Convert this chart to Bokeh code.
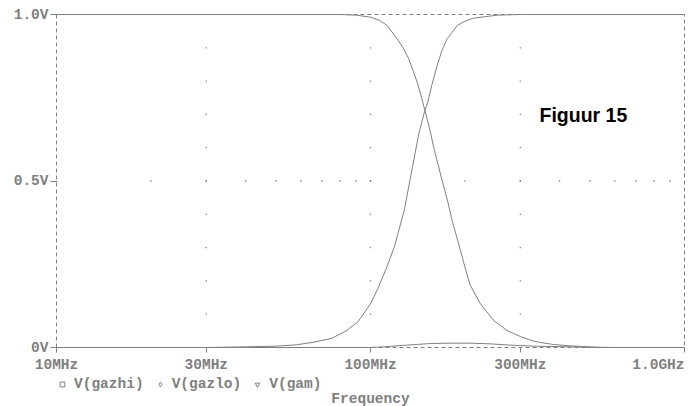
import numpy as np
from bokeh.plotting import figure
from bokeh.models import (Range1d, FixedTicker, Label, Legend, LegendItem,
                          ColumnDataSource)
from bokeh.embed import file_html
from bokeh.resources import INLINE

# ---------------- data (frequency in MHz, voltage in V) ----------------
gazhi_f = [10, 30, 40, 50, 58, 66, 75, 83, 91, 100, 106, 112, 119, 128, 136,
           142.5, 149, 152, 157, 163, 169, 175.5, 189, 200, 213, 253, 300, 1000]
gazhi_v = [0.000, 0.000, 0.002, 0.004, 0.008, 0.016, 0.027, 0.048, 0.076,
           0.131, 0.181, 0.235, 0.301, 0.411, 0.541, 0.642, 0.712, 0.735,
           0.790, 0.847, 0.893, 0.927, 0.967, 0.980, 0.989, 0.998, 1.000, 1.000]

gazlo_f = [10, 80, 90, 100, 107, 113, 121.6, 127, 132.4, 140.8, 145, 149, 154,
           159, 169, 176, 182, 193.5, 200.7, 208, 224, 247, 272, 300, 331, 348,
           383, 433, 527, 600, 1000]
gazlo_v = [1.000, 1.000, 0.998, 0.992, 0.982, 0.967, 0.927, 0.900, 0.867,
           0.797, 0.755, 0.712, 0.660, 0.601, 0.502, 0.440, 0.381, 0.291,
           0.235, 0.186, 0.131, 0.081, 0.051, 0.033, 0.019, 0.015, 0.009,
           0.005, 0.001, 0.000, 0.000]

gam_f = [10, 100, 110, 125, 140, 155, 180, 208, 240, 279, 330, 433, 520, 1000]
gam_v = [0.0, 0.0, 0.002, 0.006, 0.009, 0.012, 0.013, 0.013, 0.011, 0.007,
         0.004, 0.002, 0.000, 0.0]

x_ticks_mhz = [10, 30, 100, 300, 1000]
x_tick_labels = ["10MHz", "30MHz", "100MHz", "300MHz", "1.0GHz"]
y_ticks = [0, 0.5, 1.0]
y_tick_labels = ["0V", "0.5V", "1.0V"]
series_names = ["V(gazhi)", "V(gazlo)", "V(gam)"]

# ---------------- styling ----------------
GRAY = "#808080"
MONO = "Liberation Mono"
FS = "14.5px"

PX_DEC = 314.0   # pixels per decade
PX_V = 333.0     # pixels per volt

p = figure(width=695, height=406, x_axis_type="log",
           x_range=Range1d(1e7 * 10 ** (-56 / PX_DEC), 1e7 * 10 ** (639 / PX_DEC)),
           y_range=Range1d(-59 / PX_V, 1 + 14 / PX_V),
           output_backend="svg", toolbar_location=None,
           min_border_left=0, min_border_right=0, min_border_top=0,
           min_border_bottom=0)
p.outline_line_color = None
p.xgrid.visible = False
p.ygrid.visible = False
p.background_fill_color = "white"
p.border_fill_color = "white"

# dashed frame
p.line([1e7, 1e9, 1e9, 1e7, 1e7], [0, 0, 1, 1, 0], line_color=GRAY,
       line_width=1, line_dash="4 3")

# dotted grid (vertical at interior major ticks, horizontal at 0.5 V)
vx, vy = [], []
for t in x_ticks_mhz[1:-1]:
    for lvl in np.arange(1, 10) / 10:
        vx.append(t * 1e6)
        vy.append(lvl)
hx = [k * 10 ** d for d in (7, 8) for k in range(2, 10)] + [1e8]
hy = [0.5] * len(hx)
p.scatter(vx + hx, vy + hy, marker="square", size=1.3, fill_color=GRAY,
          line_color=None)

# curves
markers = ["square", "diamond", "inverted_triangle"]
legend_items = []
for name, mk, f, v in zip(series_names, markers,
                          (gazhi_f, gazlo_f, gam_f), (gazhi_v, gazlo_v, gam_v)):
    src = ColumnDataSource(dict(x=[a * 1e6 for a in f], y=v))
    ln = p.line("x", "y", source=src, line_color=GRAY, line_width=1)
    # marker renderer used only for the legend symbol (zero size on the plot)
    mr = p.scatter("x", "y", source=src, marker=mk, size=0, line_color=GRAY,
                   fill_color=None, line_width=1)
    legend_items.append(LegendItem(label=name, renderers=[mr]))

# x axis sits on the 0 V line, y axis on the 10 MHz line
xa = p.xaxis[0]
xa.fixed_location = 1e7 * 0 + 0
xa.ticker = FixedTicker(ticks=[t * 1e6 for t in x_ticks_mhz], minor_ticks=[])
overrides = {t * 1e6: lab for t, lab in zip(x_ticks_mhz, x_tick_labels)}
overrides[x_ticks_mhz[-1] * 1e6] = ""
xa.major_label_overrides = overrides
xa.axis_line_color = None
xa.major_tick_line_color = GRAY
xa.major_tick_out = 5
xa.major_tick_in = 0
xa.major_label_standoff = 4
xa.major_label_text_font = MONO
xa.major_label_text_font_style = "bold"
xa.major_label_text_font_size = FS
xa.major_label_text_color = GRAY

ya = p.yaxis[0]
ya.fixed_location = x_ticks_mhz[0] * 1e6
ya.ticker = FixedTicker(ticks=y_ticks, minor_ticks=[])
ya.major_label_overrides = {t: lab for t, lab in zip(y_ticks, y_tick_labels)}
ya.axis_line_color = None
ya.major_tick_line_color = GRAY
ya.major_tick_out = 6
ya.major_tick_in = 1
ya.major_label_standoff = 2
ya.major_label_text_font = MONO
ya.major_label_text_font_style = "bold"
ya.major_label_text_font_size = FS
ya.major_label_text_color = GRAY

# last x tick label, right-aligned at the frame edge
p.add_layout(Label(x=x_ticks_mhz[-1] * 1e6, y=-0.054, text=x_tick_labels[-1],
                   text_align="right", text_baseline="alphabetic",
                   text_font=MONO, text_font_style="bold", text_font_size=FS,
                   text_color=GRAY))

# axis title
p.add_layout(Label(x=1e8, y=-0.156, text="Frequency", text_align="center",
                   text_baseline="alphabetic", text_font=MONO,
                   text_font_style="bold", text_font_size=FS, text_color=GRAY))

# figure caption
p.add_layout(Label(x=3.453e8, y=0.699, text="Figuur 15", text_align="left",
                   text_baseline="alphabetic", text_font="Liberation Sans",
                   text_font_style="bold", text_font_size="19.5px",
                   text_color="black"))

legend = Legend(items=legend_items, location=(56, 14), orientation="horizontal",
                glyph_width=12, glyph_height=12, label_standoff=6, spacing=10,
                padding=0, margin=0, background_fill_alpha=0,
                border_line_color=None, label_text_font=MONO,
                label_text_font_style="bold", label_text_font_size=FS,
                label_text_color=GRAY)
p.add_layout(legend)

open("out.html", "w").write(file_html(p, INLINE))
